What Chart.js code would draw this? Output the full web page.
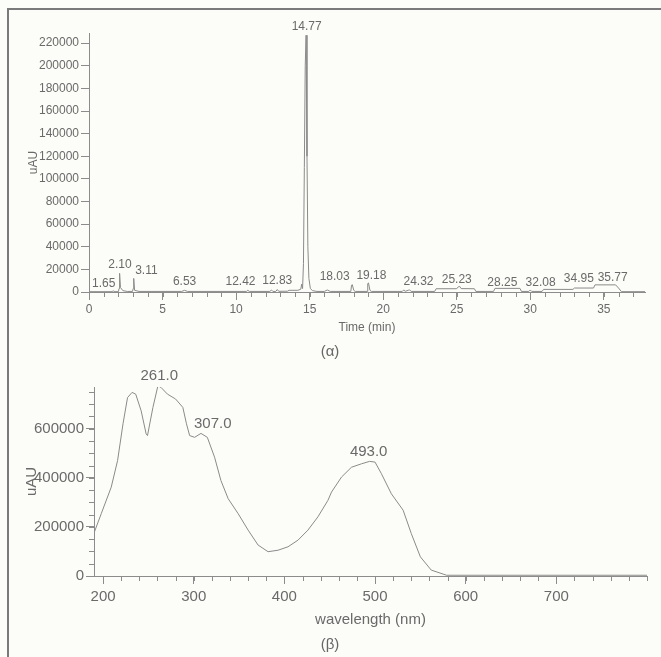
<!DOCTYPE html>
<html>
<head>
<meta charset="utf-8">
<script src="https://cdn.jsdelivr.net/npm/chart.js@4.4.1/dist/chart.umd.min.js"></script>
<style>
  body { margin: 0; background: #fcfcf8; }
  #page { position: relative; width: 661px; height: 657px; overflow: hidden;
          font-family: "Liberation Sans", Arial, sans-serif; color: #666; }
  .frame { position: absolute; left: 7px; top: 8px; width: 700px; height: 700px;
           border-left: 2px solid #7a7a7a; border-top: 2px solid #7a7a7a; }
  canvas { position: absolute; left: 0; }
  .caption { position: absolute; font-size: 15px; transform: translate(-50%, -50%); }
</style>
</head>
<body>
<div id="page">
  <div class="frame"></div>
  <canvas id="chromChart" width="661" height="360" style="top:0"></canvas>
  <canvas id="specChart" width="661" height="297" style="top:360px"></canvas>
  <div class="caption" style="left:330px; top:350px">(α)</div>
  <div class="caption" style="left:330px; top:643px">(β)</div>
</div>
<script>
// chromatogram (top)
const timeMin = [0, 1.6, 1.65, 1.7, 2.0, 2.04, 2.08, 2.14, 2.3, 2.6, 2.96, 3.0, 3.04, 3.1, 3.4,
  6.3, 6.5, 6.7, 10.7, 10.8, 10.9, 12.3, 12.4, 12.5, 12.7, 12.8, 12.9, 13.5, 13.6, 14.2,
  14.4, 14.46, 14.52, 14.58, 14.64, 14.7, 14.76, 14.82, 14.88, 14.95, 15.05, 15.2, 15.5,
  16.0, 16.2, 16.4, 17.8, 17.85, 17.9, 18.0, 18.1, 18.9, 18.95, 19.0, 19.1, 19.2,
  21.3, 21.4, 21.5, 21.7, 21.8, 21.9, 23.5, 23.6, 25.0, 25.1, 25.2, 25.3, 26.2, 26.3,
  27.5, 27.6, 29.3, 29.4, 29.9, 30.0, 30.1, 30.8, 30.9, 32.9, 33.0, 34.3, 34.4, 35.8,
  36.0, 36.2, 37.8];
const signalUAU = [300, 300, 1200, 300, 300, 3000, 16500, 4000, 1200, 500, 500, 3000, 12000, 1500, 500,
  500, 1500, 500, 500, 1500, 500, 500, 1800, 500, 500, 2200, 600, 700, 1500, 1500,
  2500, 7000, 3000, 25000, 110000, 200000, 227000, 120000, 40000, 12000, 3000, 1200, 500,
  500, 1800, 500, 500, 6000, 6500, 1500, 500, 500, 7500, 8000, 1500, 500,
  500, 1800, 600, 1500, 1900, 500, 500, 2900, 2900, 4500, 5000, 3000, 2900, 500,
  500, 3200, 3200, 500, 500, 1800, 500, 500, 2300, 2300, 3500, 3500, 6300, 6300,
  3500, 300, 300];
const chromTicksX = [0, 5, 10, 15, 20, 25, 30, 35];
const chromTicksY = [0, 20000, 40000, 60000, 80000, 100000, 120000, 140000, 160000, 180000, 200000, 220000];
const chromPeakText = ['1.65', '2.10', '3.11', '6.53', '12.42', '12.83', '14.77', '18.03', '19.18',
  '24.32', '25.23', '28.25', '32.08', '34.95', '35.77'];
const chromPeakX = [1.0, 2.1, 3.9, 6.5, 10.3, 12.8, 14.8, 16.7, 19.2, 22.4, 25.0, 28.1, 30.7, 33.3, 35.6];
const chromPeakY = [7700, 23800, 18500, 9100, 9100, 10000, 235000, 13500, 14400, 9100, 10600, 8200, 8200, 11500, 13000];

// UV-vis spectrum (bottom)
const wavelengthNm = [190, 198, 209, 216, 222, 227, 232, 236, 242, 247.5, 249, 255, 260.5, 264,
  271, 280, 288, 292, 295.5, 301, 308, 315, 323, 330, 338, 349, 360, 371, 382, 393, 404,
  415, 426, 437, 448, 452, 463, 474, 485, 494, 500, 507, 518, 531, 540, 550, 562, 579, 800];
const absorbUAU = [175000, 254000, 362000, 470000, 620000, 727000, 748000, 741000, 673000, 579000,
  572000, 687000, 775000, 768000, 741000, 721000, 687000, 620000, 572000, 565000, 581000,
  565000, 484000, 389000, 315000, 254000, 187000, 126000, 99000, 105000, 119000, 146000,
  187000, 241000, 308000, 342000, 403000, 443000, 457000, 467000, 464000, 417000, 335000,
  268000, 173000, 78000, 24000, 3000, 3000];
const specTicksX = [200, 300, 400, 500, 600, 700];
const specTicksY = [0, 200000, 400000, 600000];
const specPeakText = ['261.0', '307.0', '493.0'];
const specPeakX = [262, 321, 493];
const specPeakY = [815000, 619000, 504000];

const axisColor = '#8c8c8c';
const textColor = '#6a6a6a';
const font = 'Liberation Sans, Arial, sans-serif';

const minorTicks = {
  id: 'minorTicks',
  afterDraw(chart, args, opts) {
    const { ctx, scales: { x, y } } = chart;
    ctx.save();
    ctx.strokeStyle = axisColor;
    ctx.lineWidth = 1;
    ctx.beginPath();
    for (let v = opts.xFrom; v <= x.max; v += opts.xStep) {
      const px = Math.round(x.getPixelForValue(v)) + 0.5;
      ctx.moveTo(px, y.bottom);
      ctx.lineTo(px, y.bottom + 5);
    }
    if (opts.yStep) {
      for (let v = opts.yStep; v <= y.max; v += opts.yStep) {
        const py = Math.round(y.getPixelForValue(v)) + 0.5;
        ctx.moveTo(x.left, py);
        ctx.lineTo(x.left - 5, py);
      }
    }
    ctx.stroke();
    ctx.restore();
  }
};

const peakLabels = {
  id: 'peakLabels',
  afterDraw(chart, args, opts) {
    const { ctx, scales: { x, y } } = chart;
    ctx.save();
    ctx.fillStyle = textColor;
    ctx.font = opts.size + 'px ' + font;
    ctx.textAlign = 'center';
    ctx.textBaseline = 'middle';
    opts.text.forEach((t, i) => {
      ctx.fillText(t, x.getPixelForValue(opts.xs[i]), y.getPixelForValue(opts.ys[i]));
    });
    ctx.restore();
  }
};

function makeChart(id, xs, ys, cfg) {
  return new Chart(document.getElementById(id), {
    type: 'line',
    data: {
      datasets: [{
        data: xs.map((v, i) => ({ x: v, y: ys[i] })),
        borderColor: '#8a8a8a',
        borderWidth: 1,
        pointRadius: 0,
        tension: 0
      }]
    },
    options: {
      responsive: false,
      animation: false,
      layout: { padding: cfg.padding },
      plugins: {
        legend: { display: false },
        tooltip: { enabled: false },
        minorTicks: cfg.minor,
        peakLabels: cfg.labels
      },
      scales: {
        x: {
          type: 'linear',
          min: cfg.xMin, max: cfg.xMax,
          afterBuildTicks: s => { s.ticks = cfg.xTicks.map(v => ({ value: v })); },
          afterFit: s => { s.height = cfg.xHeight; },
          border: { color: axisColor },
          grid: { drawOnChartArea: false, color: axisColor, tickLength: 8 },
          ticks: { color: textColor, padding: cfg.xPad, autoSkip: false,
                   font: { family: font, size: cfg.tickSize }, maxRotation: 0 },
          title: { display: true, text: cfg.xTitle, color: textColor, font: { family: font, size: cfg.titleSize } }
        },
        y: {
          min: 0, max: cfg.yMax,
          afterBuildTicks: s => { s.ticks = cfg.yTicks.map(v => ({ value: v })); },
          afterFit: s => { s.width = cfg.yWidth; },
          border: { color: axisColor },
          grid: { drawOnChartArea: false, color: axisColor, tickLength: 8 },
          ticks: { color: textColor, padding: 2, autoSkip: false,
                   font: { family: font, size: cfg.tickSize }, callback: v => String(v) },
          title: { display: true, text: 'uAU', color: textColor, font: { family: font, size: cfg.titleSize } }
        }
      }
    },
    plugins: [minorTicks, peakLabels]
  });
}

makeChart('chromChart', timeMin, signalUAU, {
  padding: { left: 22, right: 16, top: 33, bottom: 21 },
  xMin: 0, xMax: 37.8, xTicks: chromTicksX, xHeight: 47, xPad: 2, xTitle: 'Time (min)',
  yMax: 229000, yTicks: chromTicksY, yWidth: 67,
  tickSize: 12, titleSize: 12,
  minor: { xFrom: 0, xStep: 1 },
  labels: { text: chromPeakText, xs: chromPeakX, ys: chromPeakY, size: 12 }
});

makeChart('specChart', wavelengthNm, absorbUAU, {
  padding: { left: 19, right: 14, top: 27, bottom: 24 },
  xMin: 190, xMax: 800, xTicks: specTicksX, xHeight: 57, xPad: 4, xTitle: 'wavelength (nm)',
  yMax: 770000, yTicks: specTicksY, yWidth: 75,
  tickSize: 15, titleSize: 15,
  minor: { xFrom: 200, xStep: 20, yStep: 50000 },
  labels: { text: specPeakText, xs: specPeakX, ys: specPeakY, size: 15 }
});
</script>
</body>
</html>
